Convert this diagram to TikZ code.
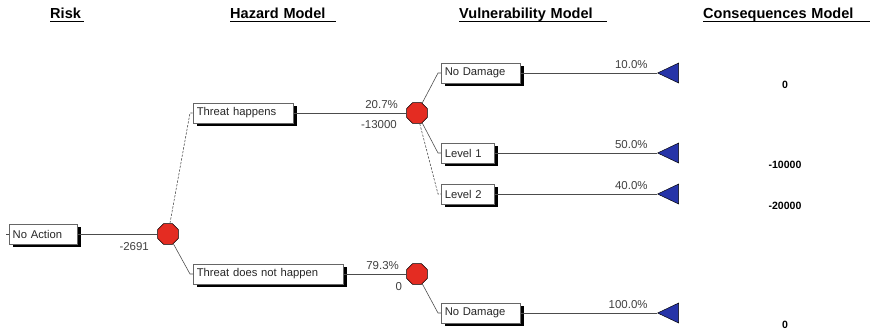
\documentclass[tikz,border=0pt]{standalone}
\usepackage{fontspec}
\setmainfont{Liberation Sans}
\usetikzlibrary{shapes.geometric,shadows,calc}
\definecolor{chancered}{RGB}{228,44,34}
\definecolor{termblue}{RGB}{38,52,168}
\tikzset{
  branch/.style={draw=black!60, fill=white, anchor=west, minimum height=0.6cm,
    inner xsep=3pt, inner ysep=0pt, align=left, text=black!85,
    font=\fontsize{9.6}{11}\selectfont,
    drop shadow={opacity=1, fill=black, shadow xshift=3pt, shadow yshift=-2.6pt}},
  chance/.style={regular polygon, regular polygon sides=8, draw=black,
    fill=chancered, inner sep=0pt, minimum size=0.68cm},
  term/.style={isosceles triangle, shape border rotate=180,
    isosceles triangle stretches, draw=black, fill=termblue, inner sep=0pt,
    minimum width=0.6cm, minimum height=0.63cm, anchor=apex},
  heading/.style={anchor=base west, inner xsep=0pt,
    font=\bfseries\fontsize{12.4}{14}\selectfont},
  prob/.style={font=\fontsize{9.8}{11}\selectfont, text=black!75, inner sep=1pt},
  payoff/.style={font=\bfseries\fontsize{9}{11}\selectfont, inner sep=1pt},
  edge/.style={draw=black!70, line width=0.5pt},
  lowedge/.style={edge, dash pattern=on 2pt off 1.2pt}
}
\begin{document}
\begin{tikzpicture}[x=0.03cm,y=-0.03cm]
\useasboundingbox (0,0) rectangle (870,333);

% column headings
\node[heading,text width=1.02cm] (h1) at (50,18) {Risk};
\node[heading,text width=3.18cm] (h2) at (230,18) {Hazard Model};
\node[heading,text width=4.44cm] (h3) at (459,18) {Vulnerability Model};
\node[heading,text width=5.01cm] (h4) at (703,18) {Consequences Model};
\foreach \h in {h1,h2,h3,h4}
    \draw ([yshift=-3pt]\h.base west) -- ([yshift=-3pt]\h.base east);

% tree
\node[branch,text width=1.83cm] (act) at (9,234) {No Action};
\node[chance] (c1) at (168,234) {};
\node[branch,text width=2.79cm] (yes) at (193,113) {Threat happens};
\node[branch,text width=4.29cm] (no) at (193,274) {Threat does not happen};
\node[chance] (c2) at (417,113) {};
\node[chance] (c3) at (417,274) {};
\node[branch,text width=2.16cm] (d1) at (441,73) {No Damage};
\node[branch,text width=1.38cm] (l1) at (441,153) {Level 1};
\node[branch,text width=1.38cm] (l2) at (441,194) {Level 2};
\node[branch,text width=2.16cm] (d2) at (441,313) {No Damage};

\draw[edge] ($(act.west)+(-3,0)$) -- (act.west);
\draw[edge] (act) -- (c1);
\draw[lowedge] (c1) -- ($(yes.west)+(-3,0)$) -- (yes.west);
\draw[edge] (c1) -- ($(no.west)+(-3,0)$) -- (no.west);
\draw[edge] (yes) -- (c2);
\draw[edge] (no) -- (c3);
\foreach \b in {d1,l1}
    \draw[edge] (c2) -- ($(\b.west)+(-3,0)$) -- (\b.west);
\draw[lowedge] (c2) -- ($(l2.west)+(-3,0)$) -- (l2.west);
\draw[edge] (c3) -- ($(d2.west)+(-3,0)$) -- (d2.west);

% values at chance nodes
\node[prob,anchor=east] (v1) at ($(c1.west)+(-7,13)$) {-2691};
\node[prob,anchor=east] (p2) at ($(c2.west)+(-7,-8)$) {20.7\%};
\node[prob,anchor=east] (v2) at ($(c2.west)+(-8,12)$) {-13000};
\node[prob,anchor=east] (p3) at ($(c3.west)+(-6,-8)$) {79.3\%};
\node[prob,anchor=east] (v3) at ($(c3.west)+(-3,13)$) {0};

% terminal nodes
\foreach \t/\b/\p/\v in {t1/d1/10.0\%/0, t2/l1/50.0\%/-10000,
        t3/l2/40.0\%/-20000, t4/d2/100.0\%/0} {
    \node[term] (\t) at ($(\b.west)+(216,0)$) {};
    \draw[edge] (\b.east) -- (\t.apex);
    \node[prob,anchor=east] at ($(\t.apex)+(-8,-8)$) {\p};
    \node[payoff] at ($(\t.apex)+(128,12)$) {\v};
}
\end{tikzpicture}
\end{document}
